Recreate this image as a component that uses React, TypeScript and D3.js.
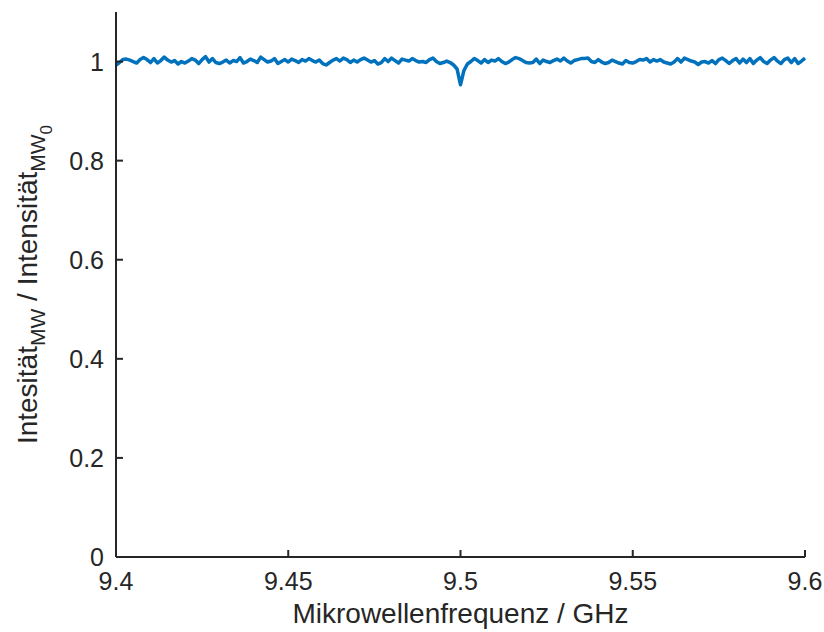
import React from "react";
import { useRef, useEffect } from "react";
import * as d3 from "d3";

// frequency grid 9.400 .. 9.600 GHz, step 1 MHz
const freqStart = 9.4;
const freqStep = 0.001;

// normalised intensity
const intensity = [
  0.993, 0.998, 1.004, 1.005, 1.003, 1.0, 0.997, 1.004, 1.008, 1.004,
  0.998, 1.006, 0.997, 1.002, 1.009, 1.003, 0.999, 1.002, 0.995, 1.0,
  0.997, 1.001, 1.006, 1.003, 0.996, 1.004, 1.01, 0.999, 1.006, 0.998,
  0.996, 0.999, 1.003, 0.997, 1.002, 1.0, 1.008, 0.997, 1.0, 1.005,
  1.002, 0.998, 1.009, 1.004, 0.999, 1.001, 1.006, 0.996, 1.0, 1.004,
  0.999, 1.005, 1.002, 0.998, 1.004, 1.001, 1.006, 1.002, 0.999, 1.003,
  0.996, 0.993, 0.998, 1.003, 1.006, 1.001, 1.007, 1.004, 0.998, 1.003,
  0.999, 1.004, 1.007, 1.003, 0.999, 1.002, 0.995, 0.998, 1.006, 1.0,
  1.007, 1.002, 0.997, 1.005, 1.003, 1.001, 1.006, 1.002, 0.999, 1.0,
  0.998, 1.004, 1.007, 1.0, 0.996, 0.998, 1.001, 0.998, 0.993, 0.985,
  0.953,
  0.982, 0.995, 1.0, 1.006, 1.002, 0.997, 1.004, 0.998, 1.003,
  1.001, 1.006, 1.0, 0.996, 0.999, 1.004, 1.008, 1.006, 1.002, 0.998,
  0.997, 0.998, 1.005, 0.996, 1.003, 1.0, 0.998, 1.002, 1.005, 1.001,
  1.007, 1.001, 0.997, 1.002, 1.004, 1.006, 1.006, 1.007, 1.0, 0.998,
  1.004, 0.999, 0.996, 0.998, 1.003, 1.0, 0.997, 0.995, 1.002, 0.998,
  0.997, 1.0, 1.004, 1.003, 1.006, 0.999, 1.004, 1.001, 1.004, 0.999,
  0.997, 0.995, 0.999, 1.006, 0.999, 1.007, 1.004, 1.001, 0.999, 0.994,
  0.999, 1.0, 0.997, 1.002, 0.996, 1.004, 1.007, 1.002, 0.996, 1.002,
  1.006, 0.997, 1.005, 0.998, 1.006, 0.996, 1.003, 1.008, 1.0, 0.996,
  1.003, 1.008, 1.001, 0.996, 1.004, 1.007, 0.998, 1.006, 0.996, 1.001, 1.007,
];

const xTicks = [9.4, 9.45, 9.5, 9.55, 9.6];
const xTickLabels = ["9.4", "9.45", "9.5", "9.55", "9.6"];
const yTicks = [0, 0.2, 0.4, 0.6, 0.8, 1];
const yTickLabels = ["0", "0.2", "0.4", "0.6", "0.8", "1"];

function App() {
  const svgRef = useRef(null);

  const width = 824,
    height = 632;
  const margin = { top: 12, right: 19, bottom: 75, left: 116 };
  const font = "'Liberation Sans', Arial, Helvetica, sans-serif";
  const axisColor = "#262626";

  function renderChart() {
    const svg = d3.select(svgRef.current);
    svg.selectAll("*").remove();

    const x = d3
      .scaleLinear()
      .domain([9.4, 9.6])
      .range([margin.left, width - margin.right]);
    const y = d3
      .scaleLinear()
      .domain([0, 1.1])
      .range([height - margin.bottom, margin.top]);

    const data = intensity.map((v, i) => ({
      f: freqStart + i * freqStep,
      v: v,
    }));

    // data line
    const line = d3
      .line()
      .x((d) => x(d.f))
      .y((d) => y(d.v));
    svg
      .append("path")
      .datum(data)
      .attr("d", line)
      .attr("fill", "none")
      .attr("stroke", "#0072BD")
      .attr("stroke-width", 3.5)
      .attr("stroke-linejoin", "round");

    const y0 = y(0);
    const x0 = x(9.4);

    // x axis (ticks point inward)
    const gx = svg.append("g");
    gx.append("line")
      .attr("x1", x0)
      .attr("x2", x(9.6))
      .attr("y1", y0)
      .attr("y2", y0)
      .attr("stroke", axisColor)
      .attr("stroke-width", 2);
    gx.selectAll(".xt")
      .data(xTicks)
      .join("line")
      .attr("x1", (d) => x(d))
      .attr("x2", (d) => x(d))
      .attr("y1", y0)
      .attr("y2", y0 - 7)
      .attr("stroke", axisColor)
      .attr("stroke-width", 2);
    gx.selectAll("text")
      .data(xTicks)
      .join("text")
      .attr("x", (d) => x(d))
      .attr("y", y0 + 33)
      .attr("text-anchor", "middle")
      .attr("font-family", font)
      .attr("font-size", 25)
      .attr("fill", axisColor)
      .text((d, i) => xTickLabels[i]);

    // y axis
    const gy = svg.append("g");
    gy.append("line")
      .attr("x1", x0)
      .attr("x2", x0)
      .attr("y1", y0)
      .attr("y2", y(1.1))
      .attr("stroke", axisColor)
      .attr("stroke-width", 2);
    gy.selectAll(".yt")
      .data(yTicks)
      .join("line")
      .attr("x1", x0)
      .attr("x2", x0 + 7)
      .attr("y1", (d) => y(d))
      .attr("y2", (d) => y(d))
      .attr("stroke", axisColor)
      .attr("stroke-width", 2);
    gy.selectAll("text")
      .data(yTicks)
      .join("text")
      .attr("x", x0 - 12)
      .attr("y", (d) => y(d) + 9)
      .attr("text-anchor", "end")
      .attr("font-family", font)
      .attr("font-size", 25)
      .attr("fill", axisColor)
      .text((d, i) => yTickLabels[i]);

    // x label
    svg
      .append("text")
      .attr("x", (x0 + x(9.6)) / 2)
      .attr("y", y0 + 66)
      .attr("text-anchor", "middle")
      .attr("font-family", font)
      .attr("font-size", 28)
      .attr("fill", axisColor)
      .text("Mikrowellenfrequenz / GHz");

    // y label with subscripts
    const yl = svg
      .append("text")
      .attr(
        "transform",
        "translate(37," + (y0 + y(1.1)) / 2 + ") rotate(-90)"
      )
      .attr("text-anchor", "middle")
      .attr("font-family", font)
      .attr("font-size", 28)
      .attr("fill", axisColor);
    yl.append("tspan").text("Intesität");
    yl.append("tspan").attr("font-size", 21).attr("dy", 8).text("MW");
    yl.append("tspan").attr("dy", -8).text(" / Intensität");
    yl.append("tspan").attr("font-size", 21).attr("dy", 8).text("MW");
    yl.append("tspan").attr("font-size", 17).attr("dy", 7).text("0");
  }

  useEffect(() => {
    renderChart();
  }, []);

  return (
    <svg
      ref={svgRef}
      width={width}
      height={height}
      style={{ position: "absolute", left: 0, top: 0, background: "#fff" }}
    />
  );
}

export default App;
